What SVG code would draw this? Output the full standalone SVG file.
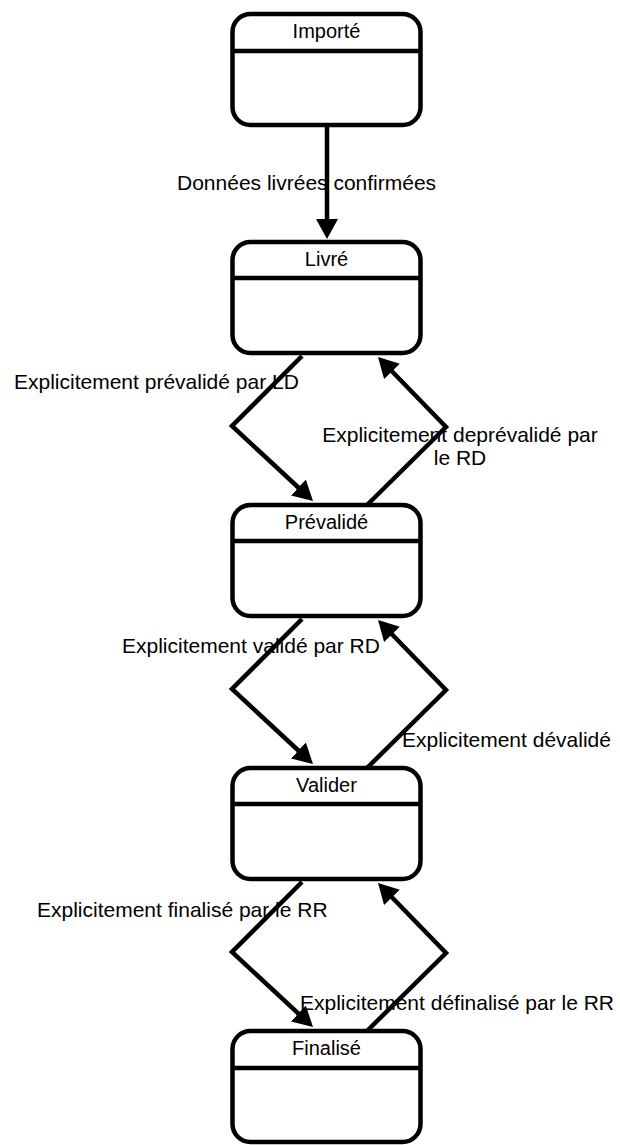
<svg xmlns="http://www.w3.org/2000/svg" width="620" height="1145" viewBox="0 0 620 1145">
<style>
.box{fill:#fff;stroke:#000;stroke-width:4.5}
.div{stroke:#000;stroke-width:4.5}
.nt{font-family:"Liberation Sans",Arial,sans-serif;font-size:20px;fill:#000;text-anchor:middle}
.el{font-family:"Liberation Sans",Arial,sans-serif;font-size:21px;fill:#000}
.edge{fill:none;stroke:#000;stroke-width:4.5;stroke-linejoin:miter;marker-end:url(#ah)}
</style>
<defs>
<marker id="ah" viewBox="0 0 20 22" refX="14" refY="11" markerWidth="20" markerHeight="22" markerUnits="userSpaceOnUse" orient="auto">
<path d="M0,0 L20,11 L0,22 z" fill="#000"/>
</marker>
</defs>
<g id="connectors">
<path class="edge" d="M327,127 L327,233"/>
<path class="edge" d="M302,356 L232,426 L308.6,497"/>
<path class="edge" d="M367,505 L446,427 L382.2,361.3"/>
<path class="edge" d="M302,619 L232,689 L308.6,760"/>
<path class="edge" d="M367,768 L446,690 L382.2,624.3"/>
<path class="edge" d="M302,882 L232,952 L308.6,1023"/>
<path class="edge" d="M367,1031 L446,953 L382.2,887.3"/>
</g>
<g id="edge-labels">
<text class="el" x="177" y="190">Données livrées confirmées</text>
<text class="el" x="14" y="389">Explicitement prévalidé par LD</text>
<text class="el" x="460" y="442" text-anchor="middle">Explicitement deprévalidé par</text>
<text class="el" x="460" y="465" text-anchor="middle">le RD</text>
<text class="el" x="122" y="653">Explicitement validé par RD</text>
<text class="el" x="402" y="747">Explicitement dévalidé</text>
<text class="el" x="37" y="917">Explicitement finalisé par le RR</text>
<text class="el" x="300" y="1010">Explicitement définalisé par le RR</text>
</g>
<g id="node-importe">
<rect class="box" x="232.5" y="14" width="188" height="111" rx="18"/>
<line class="div" x1="232.5" y1="51" x2="420.5" y2="51"/>
<text class="nt" x="326.5" y="38">Importé</text>
</g>
<g id="node-livre">
<rect class="box" x="232.5" y="242" width="188" height="111" rx="18"/>
<line class="div" x1="232.5" y1="278" x2="420.5" y2="278"/>
<text class="nt" x="326.5" y="266">Livré</text>
</g>
<g id="node-prevalide">
<rect class="box" x="232.5" y="505" width="188" height="111" rx="18"/>
<line class="div" x1="232.5" y1="541" x2="420.5" y2="541"/>
<text class="nt" x="326.5" y="529">Prévalidé</text>
</g>
<g id="node-valider">
<rect class="box" x="232.5" y="768" width="188" height="111" rx="18"/>
<line class="div" x1="232.5" y1="804" x2="420.5" y2="804"/>
<text class="nt" x="326.5" y="792">Valider</text>
</g>
<g id="node-finalise">
<rect class="box" x="232.5" y="1031" width="188" height="111" rx="18"/>
<line class="div" x1="232.5" y1="1068" x2="420.5" y2="1068"/>
<text class="nt" x="326.5" y="1055">Finalisé</text>
</g>
</svg>
